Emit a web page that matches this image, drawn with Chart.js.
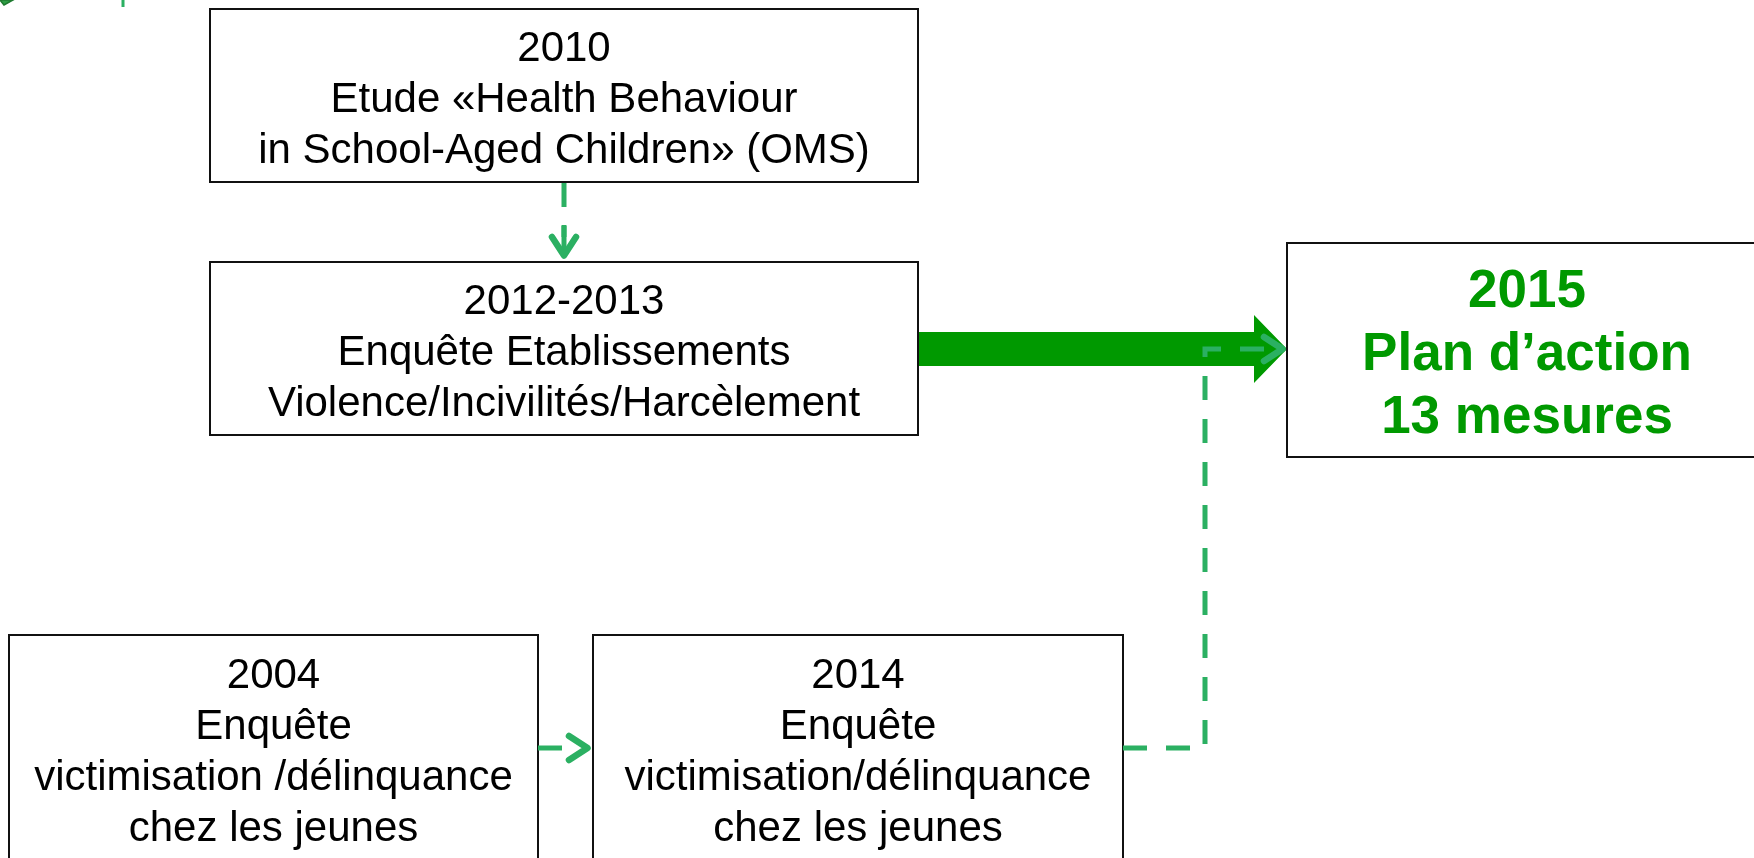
<!DOCTYPE html>
<html>
<head>
<meta charset="utf-8">
<script src="https://cdn.jsdelivr.net/npm/chart.js@4.4.1/dist/chart.umd.min.js"></script>
<style>
  html, body { margin: 0; padding: 0; background: #ffffff; }
  #wrap { width: 1754px; height: 858px; }
</style>
</head>
<body>
<div id="wrap"><canvas id="c" width="1754" height="858"></canvas></div>
<script>
// ---- Diagram data (units = the diagram's own coordinate grid, 0..1754 by 0..858) ----
const nodeLines = [
  ["2010", "Etude «Health Behaviour", "in School-Aged Children» (OMS)"],
  ["2012-2013", "Enquête Etablissements", "Violence/Incivilités/Harcèlement"],
  ["2015", "Plan d’action", "13 mesures"],
  ["2004", "Enquête", "victimisation /délinquance", "chez les jeunes"],
  ["2014", "Enquête", "victimisation/délinquance", "chez les jeunes"]
];
const nodeLeft   = [210, 210, 1287,   9,  593];
const nodeRight  = [918, 918, 1767, 538, 1123];
const nodeTop    = [  9, 262,  243, 635,  635];
const nodeBottom = [182, 435,  457, 860,  860];
const nodeEmphasis = [false, false, true, false, false];

// dashed links (polylines ending at arrow tip)
const linkX = [[564, 564], [538, 591], [1123, 1205, 1205, 1286]];
const linkY = [[183, 259], [748, 748], [748, 748, 349, 349]];
const linkStem = [true, false, false];

// main (solid) arrow outline
const mainArrowX = [919, 1254, 1254, 1287, 1254, 1254, 919];
const mainArrowY = [332, 332, 315, 349, 383, 366, 366];

// partial marks cut by the top edge
const fragShapeX = [0, 13, 4];
const fragShapeY = [0, 0, 5];
const fragLineX = [123, 123];
const fragLineY = [0, 7];

const LINK_COLOR = '#2BB062';
const MAIN_COLOR = '#009900';

const boxDatasets = nodeLines.map((_, i) => ({
  data: [
    {x: nodeLeft[i], y: nodeTop[i]},
    {x: nodeRight[i], y: nodeTop[i]},
    {x: nodeRight[i], y: nodeBottom[i]},
    {x: nodeLeft[i], y: nodeBottom[i]},
    {x: nodeLeft[i], y: nodeTop[i]}
  ],
  showLine: true, borderColor: '#111111', borderWidth: 2, pointRadius: 0,
  borderJoinStyle: 'miter', borderCapStyle: 'square', tension: 0, fill: false, order: 5
}));

const fragLineDataset = {
  data: fragLineX.map((x, i) => ({x, y: fragLineY[i]})),
  showLine: true, borderColor: LINK_COLOR, borderWidth: 3, pointRadius: 0, order: 5
};

function polyPath(ctx, xs, ys, sx, sy) {
  ctx.beginPath();
  xs.forEach((x, i) => {
    const px = sx.getPixelForValue(x), py = sy.getPixelForValue(ys[i]);
    if (i === 0) ctx.moveTo(px, py); else ctx.lineTo(px, py);
  });
}

const diagramPlugin = {
  id: 'diagram',
  beforeDatasetsDraw(chart) {
    const ctx = chart.ctx, sx = chart.scales.x, sy = chart.scales.y;
    ctx.save();
    polyPath(ctx, mainArrowX, mainArrowY, sx, sy);
    ctx.closePath();
    ctx.fillStyle = MAIN_COLOR;
    ctx.fill();
    polyPath(ctx, fragShapeX, fragShapeY, sx, sy);
    ctx.closePath();
    ctx.fillStyle = '#2E9E44';
    ctx.fill();
    ctx.strokeStyle = '#1F7A30';
    ctx.lineWidth = 1.5;
    ctx.stroke();
    ctx.restore();
  },
  afterDatasetsDraw(chart) {
    const ctx = chart.ctx, sx = chart.scales.x, sy = chart.scales.y;
    ctx.save();
    linkX.forEach((xs, li) => {
      const ys = linkY[li];
      const n = xs.length;
      const tx = sx.getPixelForValue(xs[n - 1]), ty = sy.getPixelForValue(ys[n - 1]);
      const px = sx.getPixelForValue(xs[n - 2]), py = sy.getPixelForValue(ys[n - 2]);
      const len = Math.hypot(tx - px, ty - py);
      const ux = (tx - px) / len, uy = (ty - py) / len;
      const depth = 22, half = 12;
      const bx = tx - ux * depth, by = ty - uy * depth;
      ctx.strokeStyle = LINK_COLOR;
      // dashed body (stop at chevron base)
      ctx.beginPath();
      xs.forEach((x, i) => {
        let X = sx.getPixelForValue(x), Y = sy.getPixelForValue(ys[i]);
        if (i === n - 1) { X = bx; Y = by; }
        if (i === 0) ctx.moveTo(X, Y); else ctx.lineTo(X, Y);
      });
      ctx.setLineDash([24, 19]);
      ctx.lineDashOffset = 0;
      ctx.lineWidth = 5;
      ctx.lineCap = 'butt';
      ctx.lineJoin = 'miter';
      ctx.stroke();
      ctx.setLineDash([]);
      if (linkStem[li]) {
        ctx.beginPath();
        ctx.moveTo(bx - ux * 12, by - uy * 12);
        ctx.lineTo(tx - ux * 3, ty - uy * 3);
        ctx.stroke();
      }
      // chevron
      ctx.beginPath();
      ctx.moveTo(bx - uy * half, by + ux * half);
      ctx.lineTo(tx - ux * 3.5, ty - uy * 3.5);
      ctx.lineTo(bx + uy * half, by - ux * half);
      ctx.lineWidth = 6.5;
      ctx.lineCap = 'round';
      ctx.lineJoin = 'round';
      ctx.stroke();
    });
    // node texts
    ctx.textAlign = 'center';
    ctx.textBaseline = 'middle';
    nodeLines.forEach((lines, i) => {
      const emph = nodeEmphasis[i];
      const size = emph ? 53 : 42;
      const lh = emph ? 63 : 51;
      ctx.font = (emph ? 'bold ' : '') + size + 'px "Liberation Sans", Arial, sans-serif';
      ctx.fillStyle = emph ? MAIN_COLOR : '#000000';
      const cx = (sx.getPixelForValue(nodeLeft[i]) + sx.getPixelForValue(nodeRight[i])) / 2;
      const cy = (sy.getPixelForValue(nodeTop[i]) + sy.getPixelForValue(nodeBottom[i])) / 2 + 5;
      const start = cy - (lines.length - 1) * lh / 2;
      lines.forEach((t, k) => ctx.fillText(t, cx, start + k * lh));
    });
    ctx.restore();
  }
};

new Chart(document.getElementById('c'), {
  type: 'scatter',
  data: { datasets: [...boxDatasets, fragLineDataset] },
  options: {
    responsive: false,
    animation: false,
    events: [],
    layout: { padding: 0 },
    plugins: { legend: { display: false }, tooltip: { enabled: false }, title: { display: false } },
    scales: {
      x: { type: 'linear', min: 0, max: 1754, display: false },
      y: { type: 'linear', min: 0, max: 858, reverse: true, display: false }
    }
  },
  plugins: [diagramPlugin]
});
</script>
</body>
</html>
